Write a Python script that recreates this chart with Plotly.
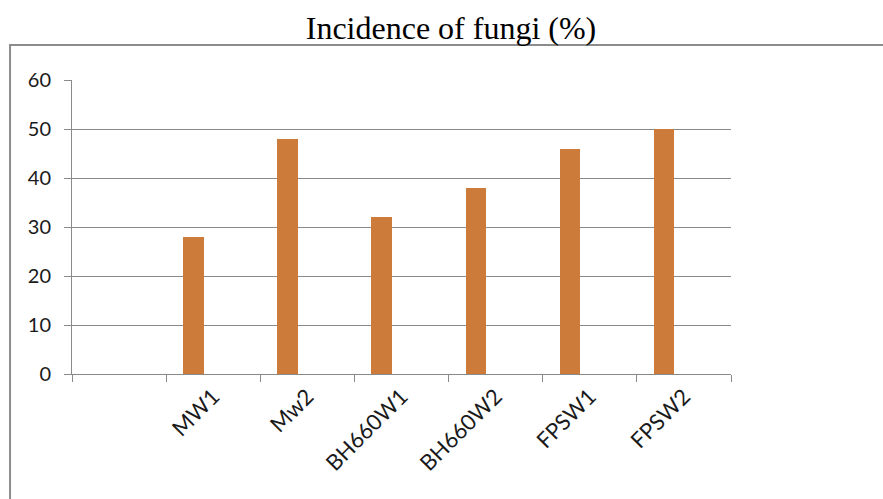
import plotly.graph_objects as go

categories = ["MW1", "Mw2", "BH660W1", "BH660W2", "FPSW1", "FPSW2"]
values = [28, 48, 32, 38, 46, 50]
y_ticks = [0, 10, 20, 30, 40, 50, 60]
title_text = "Incidence of fungi (%)"

# leading empty category slot, as in the original chart
x_cats = [" "] + categories
y_vals = [None] + values

W, H = 883, 499
L, R, T, B = 72, 731.5, 79.5, 374
pw, ph = R - L, B - T

def px_x(v):
    return (v - L) / pw

def px_y(v):
    return (B - v) / ph

GRID = "#8a8a8a"
TXT = "#1a1a1a"

fig = go.Figure()
fig.add_trace(go.Bar(
    x=x_cats, y=y_vals,
    marker=dict(color="#CC7B3B", line=dict(width=0)),
    width=0.218, offset=-0.32,
    showlegend=False,
))

fig.update_layout(
    width=W, height=H,
    margin=dict(l=L, r=W - R, t=T, b=H - B),
    paper_bgcolor="white", plot_bgcolor="white",
    title=dict(text=title_text, x=451 / W, xanchor="center", y=1 - 28 / H, yanchor="middle",
               font=dict(family="Liberation Serif", size=32, color="black")),
    font=dict(family="Lato", size=20, color=TXT),
    bargap=0,
)
fig.update_xaxes(
    type="category", categoryorder="array", categoryarray=x_cats,
    range=[-0.5, 6.5],
    tickson="boundaries", ticks="outside", ticklen=7, tickcolor=GRID, tickwidth=1,
    showline=True, linecolor=GRID, linewidth=1,
    showgrid=False, tickangle=-45,
    tickfont=dict(family="Lato", size=22, color=TXT),
)
fig.update_yaxes(
    range=[0, 60], tickvals=y_ticks,
    ticks="outside", ticklen=7, tickcolor=GRID, tickwidth=1,
    showline=True, linecolor=GRID, linewidth=1,
    showgrid=True, gridcolor=GRID, gridwidth=1,
    zeroline=False, ticklabelstandoff=9,
    tickfont=dict(family="Lato", size=20, color=TXT),
)

# outer chart-area frame
fig.add_shape(type="rect", xref="paper", yref="paper",
              x0=px_x(10), x1=px_x(895), y0=px_y(520), y1=px_y(44.5),
              line=dict(color="#8c8c8c", width=2), fillcolor="rgba(0,0,0,0)", layer="below")

fig.write_html("out.html", config={"displayModeBar": False},
               post_script="document.body.style.margin='0px';")
